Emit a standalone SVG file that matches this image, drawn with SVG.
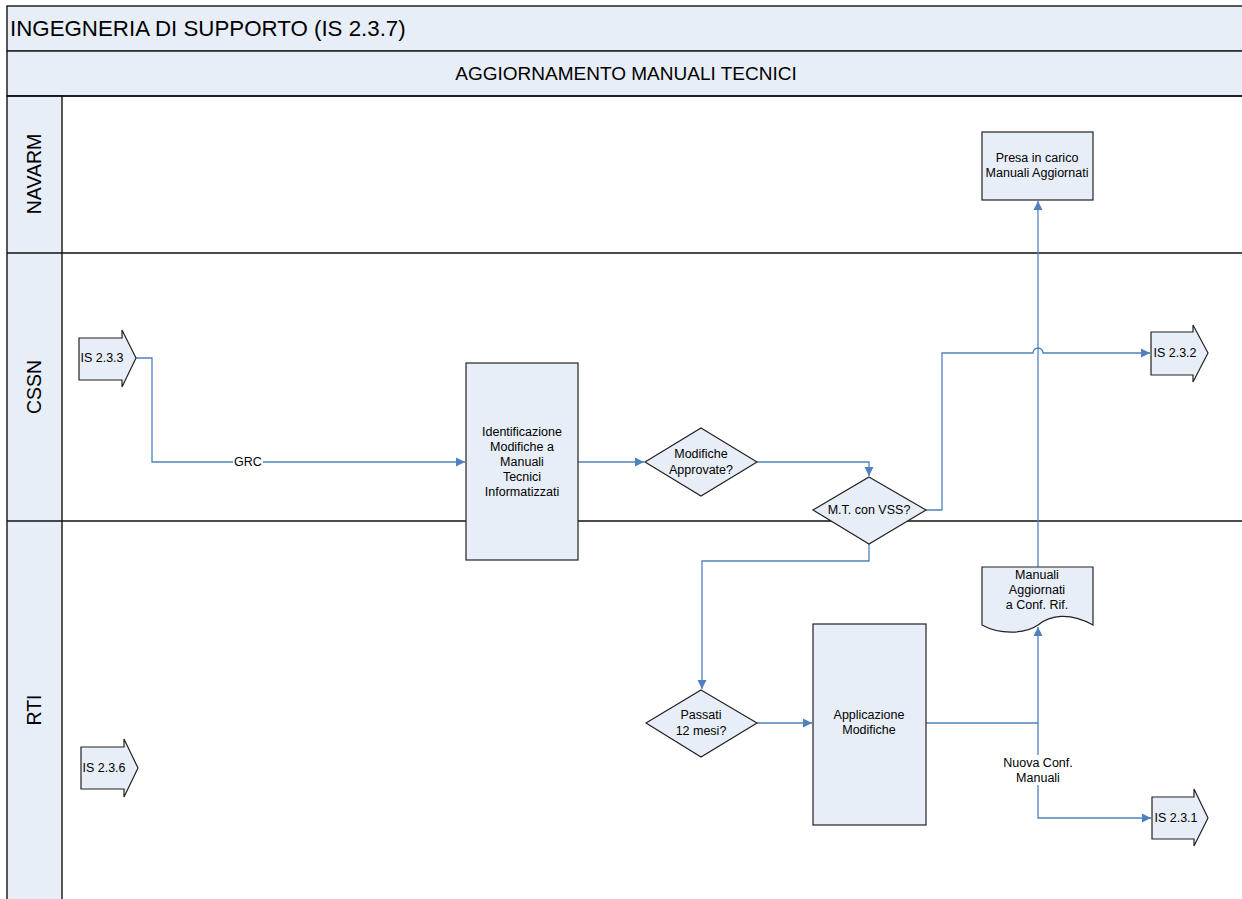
<svg xmlns="http://www.w3.org/2000/svg" width="1242" height="899" viewBox="0 0 1242 899">
<defs>
<style>
text{font-family:"Liberation Sans",Arial,sans-serif;fill:#000}
.band{fill:#E8EEF7;stroke:#222;stroke-width:1.5}
.node{fill:#E8EEF7;stroke:#222;stroke-width:1.2}
.t{font-size:12.5px;text-anchor:middle}
.lane{font-size:19.5px;text-anchor:middle}
.c{fill:none;stroke:#4F81BD;stroke-width:1.3}
.sep{stroke:#111;stroke-width:1.5}
</style>
<marker id="ah" markerWidth="10" markerHeight="10" refX="9" refY="5" orient="auto" markerUnits="userSpaceOnUse">
<path d="M0,0.5 L9,5 L0,9.5 Z" fill="#4F81BD"/>
</marker>
</defs>
<rect width="1242" height="899" fill="#fff"/>
<g id="pool">
<rect class="band" x="7" y="6" width="1240" height="45"/>
<rect class="band" x="7" y="51" width="1240" height="45"/>
<text x="10" y="36" font-size="22.3">INGEGNERIA DI SUPPORTO (IS 2.3.7)</text>
<text x="626" y="80" font-size="19" text-anchor="middle">AGGIORNAMENTO MANUALI TECNICI</text>
<rect class="band" x="7" y="96" width="55" height="810"/>
<line class="sep" x1="7" y1="253" x2="1242" y2="253"/>
<line class="sep" x1="7" y1="521" x2="1242" y2="521"/>
<line class="sep" x1="7" y1="96" x2="1242" y2="96"/>
<text class="lane" transform="translate(41,174) rotate(-90)">NAVARM</text>
<text class="lane" transform="translate(41,387) rotate(-90)">CSSN</text>
<text class="lane" transform="translate(41,710) rotate(-90)">RTI</text>
</g>
<g id="connectors">
<path class="c" d="M136,358 H152 V462 H465" marker-end="url(#ah)"/>
<rect x="233" y="455" width="30" height="14" fill="#fff"/>
<text class="t" x="248" y="466">GRC</text>
<path class="c" d="M578,462 H644" marker-end="url(#ah)"/>
<path class="c" d="M757,462 H869 V476" marker-end="url(#ah)"/>
<path class="c" d="M926,510 H942 V353 H1033 A5,5 0 0 1 1043,353 H1150" marker-end="url(#ah)"/>
<path class="c" d="M869,544 V561 H702 V689" marker-end="url(#ah)"/>
<path class="c" d="M757,723 H812" marker-end="url(#ah)"/>
<path class="c" d="M926,723 H1038 V627" marker-end="url(#ah)"/>
<path class="c" d="M1038,723 V818 H1151" marker-end="url(#ah)"/>
<path class="c" d="M1038,567 V201" marker-end="url(#ah)"/>
<rect x="998" y="755" width="80" height="30" fill="#fff"/>
<text class="t" x="1038" y="767">Nuova Conf.</text>
<text class="t" x="1038" y="782">Manuali</text>
</g>
<g id="is233">
<path class="node" d="M79,338 H122 V330 L136,358 L122,387 V380 H79 Z"/>
<text class="t" x="102" y="362">IS 2.3.3</text>
</g>
<g id="is236">
<path class="node" d="M81,747 H124 V739 L138,768 L124,797 V789 H81 Z"/>
<text class="t" x="104" y="772">IS 2.3.6</text>
</g>
<g id="is232">
<path class="node" d="M1151,332 H1193 V325 L1208,353 L1193,382 V375 H1151 Z"/>
<text class="t" x="1175" y="357">IS 2.3.2</text>
</g>
<g id="is231">
<path class="node" d="M1152,797 H1194 V789 L1208,818 L1194,846 V839 H1152 Z"/>
<text class="t" x="1176" y="822">IS 2.3.1</text>
</g>
<g id="identificazione">
<rect class="node" x="466" y="363" width="112" height="197"/>
<text class="t" x="522" y="436">Identificazione</text>
<text class="t" x="522" y="451">Modifiche a</text>
<text class="t" x="522" y="466">Manuali</text>
<text class="t" x="522" y="481">Tecnici</text>
<text class="t" x="522" y="496">Informatizzati</text>
</g>
<g id="modifiche">
<path class="node" d="M701,428 L757,462 L701,496 L645,462 Z"/>
<text class="t" x="701" y="458">Modifiche</text>
<text class="t" x="701" y="474">Approvate?</text>
</g>
<g id="mtvss">
<path class="node" d="M869,477 L926,510 L869,544 L813,510 Z"/>
<text class="t" x="869" y="514">M.T. con VSS?</text>
</g>
<g id="passati">
<path class="node" d="M701,690 L757,723 L701,757 L646,723 Z"/>
<text class="t" x="701" y="719">Passati</text>
<text class="t" x="701" y="735">12 mesi?</text>
</g>
<g id="applicazione">
<rect class="node" x="813" y="624" width="113" height="201"/>
<text class="t" x="869" y="719">Applicazione</text>
<text class="t" x="869" y="734">Modifiche</text>
</g>
<g id="presa">
<rect class="node" x="982" y="132" width="111" height="68"/>
<text class="t" x="1037" y="162">Presa in carico</text>
<text class="t" x="1037" y="177">Manuali Aggiornati</text>
</g>
<g id="manuali">
<path class="node" d="M982,567 H1093 V625 C1070,612 1050,615 1038,625 C1025,634 1000,635 982,625 Z"/>
<text class="t" x="1037" y="579">Manuali</text>
<text class="t" x="1037" y="594">Aggiornati</text>
<text class="t" x="1037" y="609">a Conf. Rif.</text>
</g>
</svg>
